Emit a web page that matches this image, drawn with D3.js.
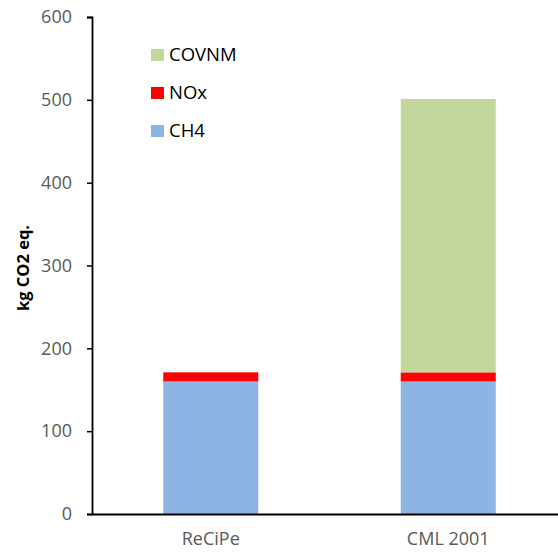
<!DOCTYPE html>
<html>
<head>
<meta charset="utf-8">
<script src="https://cdn.jsdelivr.net/npm/d3@7"></script>
<style>
  body { margin: 0; background: #fff; }
  svg { display: block; }
</style>
</head>
<body>
<svg id="chart" width="558" height="553"></svg>
<script>
// Greenhouse-gas contributions (kg CO2 eq.) by impact method
const categories = ["ReCiPe", "CML 2001"];
const seriesNames = ["CH4", "NOx", "COVNM"];
const ch4Values = [160, 160];
const noxValues = [11, 11];
const covnmValues = [0, 330];
const yTicks = [0, 100, 200, 300, 400, 500, 600];

const colors = { CH4: "#8EB4E3", NOx: "#FF0000", COVNM: "#C3D69B" };

const rows = categories.map((c, i) => ({
  category: c, CH4: ch4Values[i], NOx: noxValues[i], COVNM: covnmValues[i]
}));

const svg = d3.select("#chart");
const margin = { left: 92, top: 17, bottom: 39 };
const height = 553;

const x = d3.scaleBand()
  .domain(categories)
  .range([margin.left, 567])
  .paddingInner(0.6)
  .paddingOuter(0.3);

const y = d3.scaleLinear()
  .domain([0, 600])
  .range([height - margin.bottom, margin.top]);

const stack = d3.stack().keys(seriesNames);
const layers = stack(rows);

svg.append("g")
  .selectAll("g")
  .data(layers)
  .join("g")
  .attr("fill", d => colors[d.key])
  .selectAll("rect")
  .data(d => d)
  .join("rect")
  .attr("x", d => x(d.data.category))
  .attr("width", x.bandwidth())
  .attr("y", d => y(d[1]))
  .attr("height", d => y(d[0]) - y(d[1]));

const font = "'Open Sans', 'Liberation Sans', sans-serif";

// Y axis
const yAxis = svg.append("g")
  .attr("transform", `translate(${margin.left},0)`)
  .call(d3.axisLeft(y).tickValues(yTicks).tickSize(5).tickPadding(15));
yAxis.select(".domain").attr("stroke", "#000").attr("stroke-width", 1.8);
yAxis.selectAll(".tick line").attr("stroke", "#000").attr("stroke-width", 1.5);
yAxis.selectAll(".tick text")
  .attr("font-family", font)
  .attr("font-size", 18)
  .attr("fill", "#595959");

// X axis
const xAxis = svg.append("g")
  .attr("transform", `translate(0,${y(0)})`)
  .call(d3.axisBottom(x).tickSize(0).tickPadding(18));
xAxis.select(".domain").attr("stroke", "#000").attr("stroke-width", 1.8);
xAxis.selectAll(".tick text")
  .attr("font-family", font)
  .attr("font-size", 18)
  .attr("fill", "#595959");

// Y axis title
svg.append("text")
  .attr("transform", `translate(29,268) rotate(-90)`)
  .attr("text-anchor", "middle")
  .attr("font-family", font)
  .attr("font-size", 16.5)
  .attr("font-weight", "bold")
  .attr("fill", "#000")
  .text("kg CO2 eq.");

// Legend (top series first)
const legendItems = seriesNames.slice().reverse();
const legend = svg.append("g")
  .selectAll("g")
  .data(legendItems)
  .join("g")
  .attr("transform", (d, i) => `translate(151,${49 + i * 38})`);
legend.append("rect")
  .attr("width", 13).attr("height", 12)
  .attr("fill", d => colors[d]);
legend.append("text")
  .attr("x", 18).attr("y", 6)
  .attr("dy", "0.35em")
  .attr("font-family", font)
  .attr("font-size", 18.5)
  .attr("fill", "#000")
  .text(d => d);
</script>
</body>
</html>
